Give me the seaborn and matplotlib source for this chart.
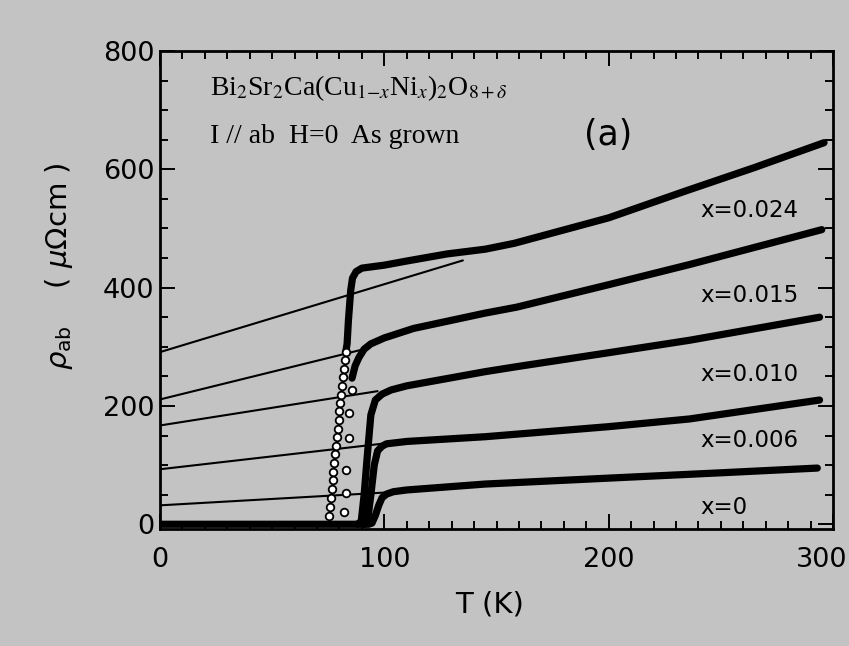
import matplotlib
matplotlib.use("Agg")
import matplotlib.pyplot as plt
import matplotlib.transforms as mtransforms
import seaborn as sns
import pandas as pd
from matplotlib.ticker import MultipleLocator

# ---------------- data ----------------
series_names = ["x=0", "x=0.006", "x=0.010", "x=0.015", "x=0.024"]

# thick curves: measured rho_ab(T)  (K, micro-ohm cm)
T_x0 = [0, 30, 60, 93, 94.5, 96, 97.5, 99, 101, 104, 110, 145, 200, 250, 293]
rho_x0 = [0, 0, 0, 0, 2, 15, 32, 45, 51, 55, 58, 68, 78, 87, 95]

T_x006 = [91, 92.5, 94, 95.5, 97, 99, 101, 110, 145, 200, 236, 294]
rho_x006 = [0, 5, 50, 100, 124, 132, 136, 140, 148, 165, 178, 210]

T_x010 = [88, 89.7, 91, 92.5, 94, 96, 99, 103, 110, 145, 160, 200, 236, 294]
rho_x010 = [0, 5, 50, 120, 185, 210, 220, 227, 234, 258, 267, 290, 311, 350]

T_x015 = [85.6, 87, 88.7, 91, 94, 100, 113, 145, 159, 200, 236, 295]
rho_x015 = [247, 268, 282, 296, 305, 315, 331, 357, 367, 405, 439, 498]

T_x024 = [82.8, 83.4, 84, 85, 85.8, 87.4, 90, 100, 110, 128, 145, 158, 200, 234, 265, 296]
rho_x024 = [291, 305, 345, 395, 416, 427, 433, 438, 445, 457, 465, 475, 518, 563, 603, 645]

# open-circle points across the transitions
T_circ_x015 = [85.8, 84.3, 84.3, 82.8, 82.8, 82.1]
rho_circ_x015 = [227, 188, 146, 92, 53, 21]

T_circ_x024 = [82.8, 82.4, 81.9, 81.5, 81.1, 80.7, 80.3, 79.9, 79.6, 79.2,
               78.8, 78.4, 78.1, 77.7, 77.3, 76.9, 76.5, 76.1, 75.7, 75.3]
rho_circ_x024 = [292, 277, 263, 249, 234, 219, 205, 191, 176, 161,
                 147, 133, 118, 103, 89, 74, 59, 45, 30, 14]

# thin lines: linear extrapolation of the normal state down to T = 0
T_ext_x0, rho_ext_x0 = [0, 102], [32, 54]
T_ext_x006, rho_ext_x006 = [0, 101], [93, 137]
T_ext_x010, rho_ext_x010 = [0, 97], [167, 225]
T_ext_x015, rho_ext_x015 = [0, 92], [211, 297]
T_ext_x024, rho_ext_x024 = [0, 135], [291, 446]

# label positions (T, rho) of the x= annotations
label_T = [241, 241, 241, 241, 241]
label_rho = [29, 141, 253, 386, 530]

x_ticks = [0, 100, 200, 300]
y_ticks = [0, 200, 400, 600, 800]

# ---------------- build tables ----------------
thick = pd.concat([
    pd.DataFrame({"T": T, "rho": r, "series": n})
    for n, T, r in zip(series_names,
                       [T_x0, T_x006, T_x010, T_x015, T_x024],
                       [rho_x0, rho_x006, rho_x010, rho_x015, rho_x024])
], ignore_index=True)

thin = pd.concat([
    pd.DataFrame({"T": T, "rho": r, "series": n})
    for n, T, r in zip(series_names,
                       [T_ext_x0, T_ext_x006, T_ext_x010, T_ext_x015, T_ext_x024],
                       [rho_ext_x0, rho_ext_x006, rho_ext_x010, rho_ext_x015, rho_ext_x024])
], ignore_index=True)

circ = pd.DataFrame({
    "T": T_circ_x015 + T_circ_x024,
    "rho": rho_circ_x015 + rho_circ_x024,
})

# ---------------- style ----------------
sns.set_style("ticks")
bg = "#c3c3c3"
plt.rcParams["font.family"] = ["DejaVu Sans"]
plt.rcParams["text.color"] = "black"
plt.rcParams["axes.labelcolor"] = "black"
plt.rcParams["xtick.color"] = "black"
plt.rcParams["ytick.color"] = "black"
plt.rcParams["axes.edgecolor"] = "black"

fig = plt.figure(figsize=(8.49, 6.46), dpi=100, facecolor=bg)
ax = fig.add_axes([160 / 849, 1 - 529 / 646, 673 / 849, 478 / 646])
ax.set_facecolor(bg)

sns.lineplot(data=thin, x="T", y="rho", units="series", estimator=None,
             sort=False, color="black", lw=1.5, ax=ax, zorder=2, legend=False)
sns.lineplot(data=thick, x="T", y="rho", units="series", estimator=None,
             sort=False, color="black", lw=5.2, ax=ax, zorder=3, legend=False,
             solid_capstyle="round", solid_joinstyle="round")
sns.scatterplot(data=circ, x="T", y="rho", marker="o", s=30, color="white",
                edgecolor="black", linewidth=1.3, ax=ax, zorder=4, legend=False)

ax.set_xlim(0, 300)
ax.set_ylim(-8, 800)
ax.set_xticks(x_ticks)
ax.set_yticks(y_ticks)
ax.xaxis.set_minor_locator(MultipleLocator(10))
ax.yaxis.set_minor_locator(MultipleLocator(50))
ax.tick_params(which="both", direction="in", top=True, right=True,
               width=1.4, colors="black", labelsize=19.5)
ax.tick_params(which="major", length=11)
ax.tick_params(which="minor", length=6)
ax.tick_params(axis="x", pad=13)
ax.tick_params(axis="y", pad=4)
for sp in ax.spines.values():
    sp.set_linewidth(2.0)
    sp.set_color("black")

# keep the last x tick label inside the figure
fig.canvas.draw()
last = ax.get_xticklabels()[-1]
last.set_horizontalalignment("right")
last.set_transform(last.get_transform() +
                   mtransforms.ScaledTranslation(14 / 100, 0, fig.dpi_scale_trans))

ax.set_xlabel("T (K)", fontsize=21)
ax.xaxis.set_label_coords(0.489, -0.128)
ax.set_ylabel(r"$\rho_{\mathrm{ab}}$    ( $\mu\Omega$cm )", fontsize=21)
ax.yaxis.set_label_coords(-0.126, 0.55)

for name, lt, lr in zip(series_names, label_T, label_rho):
    ax.text(lt, lr, name, fontsize=16.5, ha="left", va="center", zorder=5)

ax.text(0.074, 0.908,
        r"Bi$_2$Sr$_2$Ca(Cu$_{1\mathrm{-}x}$Ni$_x$)$_2$O$_{8+\delta}$",
        transform=ax.transAxes, fontsize=20, family="Liberation Serif",
        math_fontfamily="stix", ha="left", va="baseline")
ax.text(0.074, 0.808, "I // ab  H=0  As grown",
        transform=ax.transAxes, fontsize=20, family="Liberation Serif",
        ha="left", va="baseline")
ax.text(0.666, 0.824, "(a)", transform=ax.transAxes, fontsize=25,
        ha="center", va="center")

fig.savefig("out.png", dpi=100, facecolor=bg)
